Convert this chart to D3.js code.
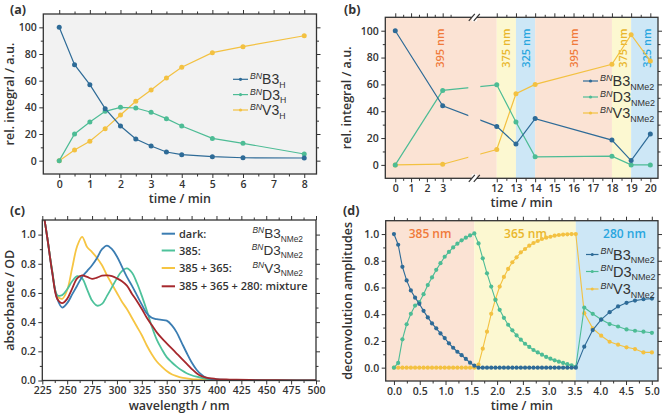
<!DOCTYPE html>
<html><head><meta charset="utf-8">
<script src="https://cdn.jsdelivr.net/npm/d3@7"></script>
<style>body{margin:0;background:#fff} svg{display:block}</style>
</head><body><svg id="c" width="662" height="413"></svg>
<script>
// ---------- DATA ----------
// panel (a)
const tA = [0,0.5,1,1.5,2,2.5,3,3.5,4,5,6,8];
const aB3 = [100,72,57,39,26,16.3,11,6.5,4.5,3,2.2,2];
const aD3 = [0,20,29,37,40,39.5,36.3,31.5,26,16.7,13,5];
const aV3 = [0,8,14.5,24,34.3,44.5,53,62,70,81,85.5,93.7];
const aXTicks = [0,1,2,3,4,5,6,7,8];
const aYTicks = [0,20,40,60,80,100];
// panel (b)
const tB = [0,3,12,13,14,18,19,20];
const bB3 = [100,44,28.7,15.5,34.5,18.5,3.2,23];
const bD3 = [0,55.5,59.7,32,6,6.5,0,0];
const bV3 = [0,0.5,11.5,53,60,75,97,77.5];
const bXTicks = [0,1,2,3,12,13,14,15,16,17,18,19,20];
const bBandFrom = [-0.63,12,13,14,18,19];
const bBandTo   = [12,13,14,18,19,20.4];
const bBandKind = ["o","y","b","o","y","b"];
const bBandLabel = ["395 nm","375 nm","325 nm","395 nm","375 nm","325 nm"];
// panel (c)
const wl = [225,230,235,240,245,250,255,260,265,270,275,280,285,290,295,300,305,310,315,320,325,330,335,340,345,350,355,360,365,370,375,380,385,390,395,400,410,420,440,460,480,500];
const absDark = [1.2,0.98,0.74,0.56,0.50,0.53,0.59,0.65,0.71,0.75,0.79,0.84,0.90,0.925,0.90,0.85,0.78,0.71,0.65,0.585,0.52,0.46,0.43,0.42,0.415,0.41,0.38,0.33,0.26,0.19,0.125,0.074,0.04,0.018,0.01,0.007,0.004,0.003,0.002,0.001,0,0];
const abs385 = [1.2,0.98,0.75,0.585,0.585,0.625,0.68,0.715,0.70,0.625,0.548,0.513,0.525,0.58,0.64,0.70,0.75,0.768,0.74,0.67,0.58,0.48,0.37,0.28,0.215,0.16,0.125,0.095,0.07,0.05,0.036,0.026,0.018,0.012,0.008,0.006,0.004,0.003,0.002,0.001,0,0];
const abs385_365 = [1.2,0.98,0.75,0.58,0.56,0.62,0.77,0.92,0.985,0.915,0.88,0.84,0.79,0.72,0.66,0.60,0.54,0.49,0.43,0.37,0.31,0.24,0.18,0.13,0.095,0.065,0.043,0.03,0.02,0.015,0.01,0.007,0.005,0.004,0.003,0.002,0.001,0.001,0,0,0,0];
const absMix = [1.2,0.98,0.74,0.56,0.53,0.56,0.63,0.70,0.72,0.71,0.697,0.705,0.718,0.72,0.715,0.70,0.68,0.65,0.595,0.545,0.49,0.43,0.38,0.33,0.29,0.255,0.22,0.185,0.15,0.115,0.08,0.05,0.03,0.02,0.014,0.01,0.007,0.005,0.003,0.002,0.001,0];
const cXTicks = [225,250,275,300,325,350,375,400,425,450,475,500];
const cYTicks = [0,0.2,0.4,0.6,0.8,1.0];
const cLegendLabels = ["dark:","385:","385 + 365:","385 + 365 + 280: mixture"];
const cLegendChem = ["B3","D3","V3",null];
// panel (d)
const tD = [0,0.082,0.164,0.246,0.328,0.41,0.492,0.574,0.656,0.738,0.82,0.902,0.984,1.066,1.148,1.23,1.312,1.394,1.476,1.558,
  1.64,1.722,1.804,1.886,1.968,2.05,2.132,2.214,2.296,2.378,2.46,2.542,2.624,2.706,2.788,2.87,2.952,3.034,3.116,3.198,3.28,3.362,3.444,3.526,
  3.69,3.854,4.018,4.182,4.346,4.51,4.674,4.838,5.002];
const dB3 = [1.0,0.92,0.755,0.653,0.578,0.524,0.478,0.425,0.376,0.331,0.294,0.256,0.221,0.182,0.149,0.119,0.093,0.065,0.037,0.015,
  0,0,0,0,0,0,0,0,0,0,0,0,0,0,0,0,0,0,0,0,0,0,0,0,
  0.157,0.281,0.36,0.415,0.458,0.485,0.502,0.512,0.517];
const dD3 = [0,0.035,0.212,0.325,0.403,0.465,0.49,0.55,0.618,0.675,0.732,0.782,0.83,0.866,0.9,0.928,0.953,0.973,0.99,1.005,
  0.93,0.818,0.706,0.607,0.507,0.433,0.373,0.321,0.279,0.241,0.209,0.179,0.155,0.132,0.114,0.097,0.08,0.067,0.055,0.045,0.035,0.026,0.017,0.005,
  0.45,0.403,0.361,0.326,0.308,0.286,0.276,0.269,0.261];
const dV3 = [0,0,0,0,0,0,0,0,0,0,0,0,0,0,0,0,0,0,0,0,
  0.022,0.142,0.269,0.403,0.512,0.607,0.679,0.739,0.789,0.826,0.863,0.888,0.913,0.933,0.948,0.963,0.973,0.98,0.988,0.993,0.996,0.998,1.0,1.0,
  0.408,0.294,0.239,0.194,0.172,0.152,0.139,0.114,0.114];
const dXTicks = [0,0.5,1,1.5,2,2.5,3,3.5,4,4.5,5];
const dYTicks = [0,0.2,0.4,0.6,0.8,1.0];
const dBandFrom = [-0.16,1.558,3.526];
const dBandTo = [1.558,3.526,5.12];
const dBandKind = ["o","y","b"];
const dBandLabel = ["385 nm","365 nm","280 nm"];
const seriesNames = ["B3","D3","V3"];

// ---------- STYLE ----------
const COL = {B3:"#2e6b97", D3:"#4dbc95", V3:"#f3c141"};
const CCOL = ["#3b7db2","#4ec29b","#f6c543","#a6282d"];
const BAND = {o:"#fbe3d4", y:"#fcf8d1", b:"#cde7f6"};
const BANDTXT = {o:"#f07a3a", y:"#e9b62c", b:"#29a6df"};
const AX = "#333";
const TICKFONT = "'Open Sans', sans-serif";
const svg = d3.select("#c");

function addAxis(g, fn, scale, vals, size, withLabels, fmt, tr) {
  const a = fn(scale).tickValues(vals).tickSize(size).tickSizeOuter(0).tickPadding(2.5)
    .tickFormat(withLabels ? (fmt || (d => d)) : "");
  const ag = g.append("g").attr("transform", tr).call(a);
  ag.select(".domain").remove();
  ag.selectAll("line").attr("stroke", AX).attr("stroke-width", 1);
  ag.attr("font-family", TICKFONT).attr("font-size", 10.5).attr("font-weight", 600);
  ag.selectAll("text").attr("fill", "#333");
  return ag;
}
function frame(g, box, x, y, o) {
  const L = box.l, R = box.r, T = box.t, B = box.b;
  addAxis(g, d3.axisBottom, x, o.xMinor, 2.5, false, null, `translate(0,${B})`);
  addAxis(g, d3.axisBottom, x, o.xMajor, 4, true, o.xFmt, `translate(0,${B})`);
  addAxis(g, d3.axisTop, x, o.xMinor, 2.5, false, null, `translate(0,${T})`);
  addAxis(g, d3.axisTop, x, o.xMajor, 4, false, null, `translate(0,${T})`);
  addAxis(g, d3.axisLeft, y, o.yMinor, 2.5, false, null, `translate(${L},0)`);
  addAxis(g, d3.axisLeft, y, o.yMajor, 4, true, o.yFmt, `translate(${L},0)`);
  addAxis(g, d3.axisRight, y, o.yMinor, 2.5, false, null, `translate(${R},0)`);
  addAxis(g, d3.axisRight, y, o.yMajor, 4, false, null, `translate(${R},0)`);
  g.append("rect").attr("x", L).attr("y", T).attr("width", R - L).attr("height", B - T)
    .attr("fill", "none").attr("stroke", AX).attr("stroke-width", 1.3);
  g.append("text").attr("x", (L + R) / 2).attr("y", o.xtY).attr("text-anchor", "middle")
    .attr("font-family", TICKFONT).attr("font-weight", 600).attr("font-size", 12.5).attr("fill", "#333").text(o.xt);
  g.append("text").attr("transform", `translate(${o.ytX},${(T + B) / 2}) rotate(-90)`).attr("text-anchor", "middle")
    .attr("font-family", TICKFONT).attr("font-weight", 600).attr("font-size", 12.5).attr("fill", "#333").text(o.yt);
}
function panelLabel(x, y, s) {
  svg.append("text").attr("x", x).attr("y", y).attr("font-family", TICKFONT).attr("font-weight", 700)
    .attr("font-size", 12.5).attr("fill", "#333").text(s);
}
function chem(g, x, y, main, sub, size, anchor) {
  const t = g.append("text").attr("x", x).attr("y", y).attr("font-family", "'Liberation Sans', Arial, sans-serif")
    .attr("fill", "#333").attr("text-anchor", anchor || "start");
  t.append("tspan").text("BN").attr("font-style", "italic").attr("font-size", size * 0.62).attr("dy", -size * 0.36);
  t.append("tspan").text(main).attr("font-size", size).attr("dy", size * 0.36);
  t.append("tspan").text(sub).attr("font-size", size * 0.62).attr("dy", size * 0.25);
  return t;
}
function lineLegend(g, x0, x1, ys, size, sub, r) {
  seriesNames.forEach((s, i) => {
    g.append("line").attr("x1", x0).attr("x2", x1).attr("y1", ys[i]).attr("y2", ys[i])
      .attr("stroke", COL[s]).attr("stroke-width", 1.2);
    g.append("circle").attr("cx", (x0 + x1) / 2).attr("cy", ys[i]).attr("r", r).attr("fill", COL[s]);
    chem(g, x1 + 2, ys[i] + 5, s, sub, size);
  });
}

// ---------- PANEL (a) ----------
{
  const box = {l: 43.3, r: 316.5, t: 14, b: 174};
  const x = d3.scaleLinear().domain([-0.52, 8.4]).range([box.l, box.r]);
  const y = d3.scaleLinear().domain([-10, 110]).range([box.b, box.t]);
  const g = svg.append("g");
  g.append("rect").attr("x", box.l).attr("y", box.t).attr("width", box.r - box.l).attr("height", box.b - box.t).attr("fill", "#f2f2f2");
  const sets = {B3: aB3, D3: aD3, V3: aV3};
  ["V3", "D3", "B3"].forEach(s => {
    const pts = tA.map((t, i) => [x(t), y(sets[s][i])]);
    g.append("path").attr("d", d3.line()(pts)).attr("fill", "none").attr("stroke", COL[s]).attr("stroke-width", 1.2);
    g.selectAll(null).data(pts).join("circle").attr("cx", d => d[0]).attr("cy", d => d[1]).attr("r", 2.5).attr("fill", COL[s]);
  });
  lineLegend(g, 233, 248, [79.3, 94.6, 110], 14, "H", 1.6);
  frame(g, box, x, y, {
    xMajor: aXTicks, xMinor: aXTicks.slice(0, -1).map(v => v + 0.5),
    yMajor: aYTicks, yMinor: aYTicks.slice(0, -1).map(v => v + 10),
    xt: "time / min", xtY: 203, yt: "rel. integral / a.u.", ytX: 14
  });
  panelLabel(10, 14, "(a)");
}

// ---------- PANEL (b) ----------
{
  const box = {l: 385.3, r: 658, t: 17.3, b: 178.3};
  const bx = 474.3;
  const x = d3.scaleLinear().domain([-0.63, 5, 10.83, 20.4]).range([box.l, bx, bx, box.r]);
  const y = d3.scaleLinear().domain([-10, 110]).range([box.b, box.t]);
  const g = svg.append("g");
  bBandFrom.forEach((f, i) => {
    g.append("rect").attr("x", x(f)).attr("y", box.t).attr("width", x(bBandTo[i]) - x(f)).attr("height", box.b - box.t)
      .attr("fill", BAND[bBandKind[i]]);
  });
  const labT = [2.8, 12.5, 13.5, 16, 18.6, 19.83];
  bBandLabel.forEach((s, i) => {
    g.append("text").attr("transform", `translate(${x(labT[i]) + 4},${y(87)}) rotate(-90)`).attr("text-anchor", "middle")
      .attr("font-family", TICKFONT).attr("font-weight", 600).attr("font-size", 11).attr("fill", BANDTXT[bBandKind[i]]).text(s);
  });
  const defs = svg.append("defs");
  const cp = defs.append("clipPath").attr("id", "brk");
  cp.append("rect").attr("x", box.l - 10).attr("y", 0).attr("width", bx - 6 - box.l + 10).attr("height", 413);
  cp.append("rect").attr("x", bx + 6).attr("y", 0).attr("width", 200).attr("height", 413);
  const sets = {B3: bB3, D3: bD3, V3: bV3};
  ["V3", "D3", "B3"].forEach(s => {
    const pts = tB.map((t, i) => [x(t), y(sets[s][i])]);
    g.append("path").attr("d", d3.line()(pts)).attr("fill", "none").attr("stroke", COL[s]).attr("stroke-width", 1.2)
      .attr("clip-path", "url(#brk)");
    g.selectAll(null).data(pts).join("circle").attr("cx", d => d[0]).attr("cy", d => d[1]).attr("r", 2.5).attr("fill", COL[s]);
  });
  lineLegend(g, 583, 598, [81, 97, 113], 14.5, "NMe2", 1.6);
  frame(g, box, x, y, {
    xMajor: bXTicks, xMinor: [0.5, 1.5, 2.5, 3.5, 12.5, 13.5, 14.5, 15.5, 16.5, 17.5, 18.5, 19.5],
    yMajor: aYTicks, yMinor: aYTicks.slice(0, -1).map(v => v + 10),
    xt: "time / min", xtY: 207, yt: "rel. integral / a.u.", ytX: 351
  });
  [box.t, box.b].forEach(yy => {
    g.append("rect").attr("x", bx - 2.5).attr("y", yy - 4).attr("width", 5).attr("height", 8).attr("fill", "#fff");
    [-2.5, 2.5].forEach(dx => {
      g.append("line").attr("x1", bx + dx - 3).attr("y1", yy + 3.5).attr("x2", bx + dx + 3).attr("y2", yy - 3.5)
        .attr("stroke", AX).attr("stroke-width", 1.2);
    });
  });
  panelLabel(344, 14, "(b)");
}

// ---------- PANEL (c) ----------
{
  const box = {l: 42.3, r: 316, t: 220, b: 380.5};
  const x = d3.scaleLinear().domain([225, 500]).range([box.l, box.r]);
  const y = d3.scaleLinear().domain([0, 1.1]).range([box.b, box.t]);
  const g = svg.append("g");
  const defs = svg.append("defs");
  defs.append("clipPath").attr("id", "cclip").append("rect").attr("x", box.l).attr("y", box.t).attr("width", box.r - box.l).attr("height", box.b - box.t);
  const curves = [absDark, abs385, abs385_365, absMix];
  const ln = d3.line().curve(d3.curveCatmullRom.alpha(0.5));
  [2, 1, 0, 3].forEach(k => {
    g.append("path").attr("d", ln(wl.map((w, i) => [x(w), y(curves[k][i])]))).attr("fill", "none")
      .attr("stroke", CCOL[k]).attr("stroke-width", 1.8).attr("clip-path", "url(#cclip)");
  });
  const rowY = [233.7, 250.5, 268, 286.3];
  cLegendLabels.forEach((s, i) => {
    g.append("line").attr("x1", 161.7).attr("x2", 175).attr("y1", rowY[i]).attr("y2", rowY[i]).attr("stroke", CCOL[i]).attr("stroke-width", 2);
    g.append("text").attr("x", 179).attr("y", rowY[i] + 4).attr("font-family", TICKFONT).attr("font-weight", 600)
      .attr("font-size", 11).attr("fill", "#333").text(s);
    if (cLegendChem[i]) chem(g, 303, rowY[i] + 4.5, cLegendChem[i], "NMe2", 13.5, "end");
  });
  frame(g, box, x, y, {
    xMajor: cXTicks, xMinor: cXTicks.slice(0, -1).map(v => v + 12.5),
    yMajor: cYTicks, yMinor: [0.1, 0.3, 0.5, 0.7, 0.9],
    xFmt: d => d, yFmt: d3.format(".1f"),
    xt: "wavelength / nm", xtY: 410, yt: "absorbance / OD", ytX: 14
  });
  panelLabel(10, 215, "(c)");
}

// ---------- PANEL (d) ----------
{
  const box = {l: 385.7, r: 658, t: 220.7, b: 381};
  const x = d3.scaleLinear().domain([-0.16, 5.12]).range([box.l, box.r]);
  const y = d3.scaleLinear().domain([-0.1, 1.1]).range([box.b, box.t]);
  const g = svg.append("g");
  dBandFrom.forEach((f, i) => {
    g.append("rect").attr("x", x(f)).attr("y", box.t).attr("width", x(dBandTo[i]) - x(f)).attr("height", box.b - box.t)
      .attr("fill", BAND[dBandKind[i]]);
  });
  const labT = [0.7, 2.55, 4.47];
  dBandLabel.forEach((s, i) => {
    g.append("text").attr("x", x(labT[i])).attr("y", y(0.97)).attr("text-anchor", "middle")
      .attr("font-family", TICKFONT).attr("font-weight", 600).attr("font-size", 12).attr("fill", BANDTXT[dBandKind[i]]).text(s);
  });
  const sets = {B3: dB3, D3: dD3, V3: dV3};
  ["V3", "D3", "B3"].forEach(s => {
    const pts = tD.map((t, i) => [x(t), y(sets[s][i])]);
    g.append("path").attr("d", d3.line()(pts)).attr("fill", "none").attr("stroke", COL[s]).attr("stroke-width", 1.1);
    g.selectAll(null).data(pts).join("circle").attr("cx", d => d[0]).attr("cy", d => d[1]).attr("r", 2.1).attr("fill", COL[s]);
  });
  lineLegend(g, 586, 598.5, [254.5, 271.5, 289], 14.5, "NMe2", 1.5);
  frame(g, box, x, y, {
    xMajor: dXTicks, xMinor: dXTicks.slice(0, -1).map(v => v + 0.25),
    yMajor: dYTicks, yMinor: [0.1, 0.3, 0.5, 0.7, 0.9],
    xFmt: d3.format(".1f"), yFmt: d3.format(".1f"),
    xt: "time / min", xtY: 410, yt: "deconvolution amplitudes", ytX: 352
  });
  panelLabel(343, 215, "(d)");
}
</script></body></html>
